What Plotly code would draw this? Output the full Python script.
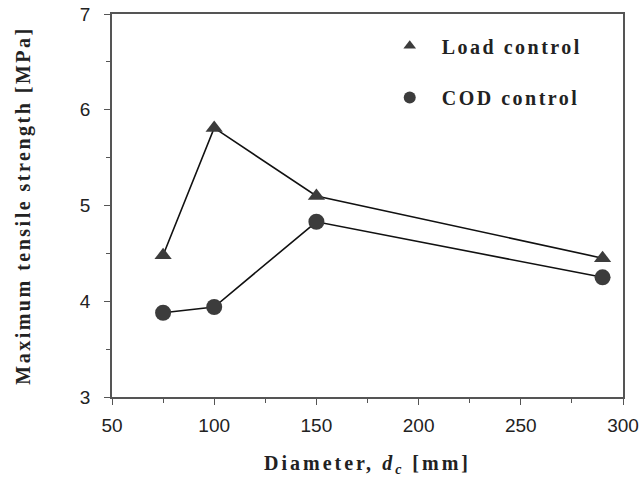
import plotly.graph_objects as go

diameter = [75, 100, 150, 290]
load_control = [4.48, 5.81, 5.10, 4.45]
cod_control = [3.88, 3.94, 4.83, 4.25]

x_ticks = [50, 100, 150, 200, 250, 300]
y_ticks = [3, 4, 5, 6, 7]

mark_color = "#3c3c3c"
axis_color = "#555555"
serif = "Liberation Serif, Times New Roman, serif"
sans = "Liberation Sans, Arial, sans-serif"

fig = go.Figure()

fig.add_trace(go.Scatter(
    x=diameter, y=load_control, mode="lines+markers",
    line=dict(color="#111111", width=1.6),
    marker=dict(symbol="triangle-up", size=15, color=mark_color),
    showlegend=False,
))
fig.add_trace(go.Scatter(
    x=diameter, y=cod_control, mode="lines+markers",
    line=dict(color="#111111", width=1.6),
    marker=dict(symbol="circle", size=16, color=mark_color),
    showlegend=False,
))
# legend entries (marker only)
fig.add_trace(go.Scatter(
    x=[None], y=[None], mode="markers", name="Load control",
    marker=dict(symbol="triangle-up", size=11, color=mark_color),
    legend="legend",
))
fig.add_trace(go.Scatter(
    x=[None], y=[None], mode="markers", name="COD control",
    marker=dict(symbol="circle", size=12, color=mark_color),
    legend="legend2",
))

axis_common = dict(
    showline=True, linecolor=axis_color, linewidth=1.5, mirror=True,
    ticks="outside", ticklen=6, tickwidth=1.2, tickcolor=axis_color,
    showgrid=False, zeroline=False, automargin=False,
    tickfont=dict(family=sans, size=19, color="#222222"),
)

fig.update_xaxes(
    range=[50, 300], tickvals=x_ticks,
    minor=dict(dtick=25, ticks="outside", ticklen=4, tickcolor=axis_color),
    ticklabelstandoff=4,
    title=dict(text="<b>Diameter, <i>d</i><sub><i>c</i></sub> [mm]</b>",
               font=dict(family=serif, size=20, color="#222222"), standoff=22),
    **axis_common,
)
fig.update_yaxes(
    range=[3, 7], tickvals=y_ticks,
    minor=dict(dtick=0.5, ticks="outside", ticklen=4, tickcolor=axis_color),
    ticklabelstandoff=10,
    title=dict(text="<b>Maximum tensile strength [MPa]</b>",
               font=dict(family=serif, size=20, color="#222222"), standoff=44),
    **axis_common,
)

legend_font = dict(family=serif, size=20, color="#222222", weight="bold")
fig.update_layout(
    width=643, height=477,
    margin=dict(l=112, r=20, t=14, b=80, autoexpand=False),
    paper_bgcolor="white", plot_bgcolor="white",
    legend=dict(x=0.52, y=0.917, xanchor="left", yanchor="middle",
                itemwidth=54, font=legend_font, bgcolor="rgba(0,0,0,0)"),
    legend2=dict(x=0.52, y=0.782, xanchor="left", yanchor="middle",
                 itemwidth=54, font=legend_font, bgcolor="rgba(0,0,0,0)"),
)

# the reference typesets its serif labels with wide letter spacing
post_js = """
var st = document.createElement('style');
st.textContent = 'text.legendtext, g.legend text, g.legend2 text {letter-spacing:2.5px !important;}'
  + ' g.scrollbox {clip-path:none !important;}'
  + ' text.xtitle {letter-spacing:3px !important;}'
  + ' text.ytitle {letter-spacing:2.5px !important;}';
document.head.appendChild(st);
"""

fig.write_html("out.html", post_script=post_js)
